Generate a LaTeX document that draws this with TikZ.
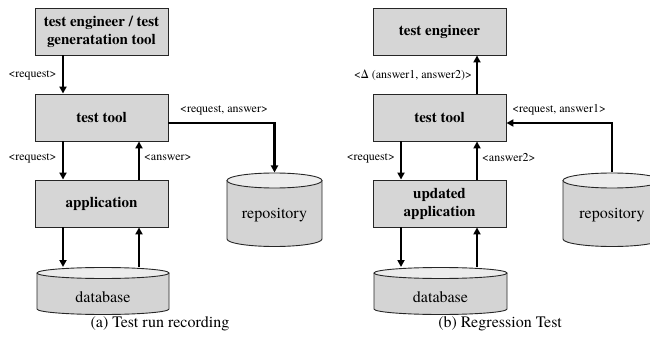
\documentclass[tikz,border=0pt]{standalone}
\usepackage{fontspec}
\setmainfont{TeX Gyre Termes}
\usetikzlibrary{arrows.meta}
\definecolor{boxgray}{HTML}{D6D6D6}
\definecolor{cyltop}{HTML}{ECECEC}
\definecolor{cylbody}{HTML}{D4D4D4}
\newcommand{\drawcyl}[5]{% left, right, top centre Y, bottom centre Y, y radius
  \path[fill=cylbody,draw=black!85,line width=0.9pt] (#1,#3) -- (#1,#4)
    arc[start angle=180,end angle=360,x radius={(#2-#1)/2},y radius=#5] -- (#2,#3);
  \path[fill=cyltop,draw=black!85,line width=0.9pt] ({(#1+#2)/2},#3)
    ellipse[x radius={(#2-#1)/2},y radius=#5];
}
\begin{document}
\begin{tikzpicture}[x=1pt,y=1pt,
  box/.style={draw=black!85, line width=0.9pt, fill=boxgray, minimum width=133pt,
    minimum height=47pt, inner sep=0pt, align=center,
    font=\fontsize{15}{18}\selectfont\bfseries},
  lbl/.style={font=\fontsize{12}{14}\selectfont, inner sep=0pt},
  cyltext/.style={font=\fontsize{16}{19}\selectfont, inner sep=0pt},
  captext/.style={font=\fontsize{16}{19}\selectfont, inner sep=0pt},
  flow/.style={line width=2.6pt, -{Triangle[width=7pt,length=7pt]}}]
\useasboundingbox (0,0) rectangle (650,343);

% ---------- (a) ----------
\node[box] (te1) at (101.5,311.5) {test engineer / test\\generatation tool};
\node[box] (tt1) at (101.5,225.5) {test tool};
\node[box] (app1) at (101.5,139.5) {application};
\drawcyl{37}{169}{70}{34}{5.5}
\node[cyltext] (db1) at (103,46) {database};
\coordinate (db1top) at (103,76);
\drawcyl{227}{322}{162.5}{104}{7.5}
\node[cyltext] (repo1) at (274.5,128) {repository};
\coordinate (repo1top) at (274.5,170.5);

\draw[flow] ([xshift=-38.5pt]te1.south) -- ([xshift=-38.5pt]tt1.north);
\draw[flow] ([xshift=-38.5pt]tt1.south) -- ([xshift=-38.5pt]app1.north);
\draw[flow] ([xshift=37.5pt]app1.north) -- ([xshift=37.5pt]tt1.south);
\draw[flow] ([xshift=-38.5pt]app1.south) -- ([xshift=-38.5pt]app1.south |- db1top);
\draw[flow] ([xshift=37.5pt]app1.south |- db1top) -- ([xshift=37.5pt]app1.south);
\draw[flow] ([yshift=-5.5pt]tt1.east) -| (repo1top);

\node[lbl] (l1) at (32.5,268) {<request>};
\node[lbl] (l2) at (224,233) {<request, answer>};
\node[lbl] (l3) at (32.5,185) {<request>};
\node[lbl, anchor=west] (l4) at (144,185) {<answer>};
\node[captext] (capa) at (160,19) {(a) Test run recording};

% ---------- (b) ----------
\node[box] (te2) at (439.5,311.5) {test engineer};
\node[box] (tt2) at (439.5,225.5) {test tool};
\node[box] (app2) at (439.5,139.5) {updated\\application};
\drawcyl{374}{507}{70}{34}{5.5}
\node[cyltext] (db2) at (440.5,46) {database};
\coordinate (db2top) at (440.5,76);
\drawcyl{563}{661}{162.5}{104}{7.5}
\node[cyltext] (repo2) at (612,128) {repository};
\coordinate (repo2top) at (612,170.5);

\draw[flow] ([xshift=37.5pt]tt2.north) -- ([xshift=37.5pt]te2.south);
\draw[flow] ([xshift=-38.5pt]tt2.south) -- ([xshift=-38.5pt]app2.north);
\draw[flow] ([xshift=37.5pt]app2.north) -- ([xshift=37.5pt]tt2.south);
\draw[flow] ([xshift=-38.5pt]app2.south) -- ([xshift=-38.5pt]app2.south |- db2top);
\draw[flow] ([xshift=37.5pt]app2.south |- db2top) -- ([xshift=37.5pt]app2.south);
\draw[flow] (repo2top) |- ([yshift=-5.5pt]tt2.east);

\node[lbl, anchor=east] (r1) at (472,268) {<Δ (answer1, answer2)>};
\node[lbl] (r2) at (559,233) {<request, answer1>};
\node[lbl, anchor=east] (r3) at (395,185) {<request>};
\node[lbl, anchor=west] (r4) at (482,185) {<answer2>};
\node[captext] (capb) at (500,19) {(b) Regression Test};
\end{tikzpicture}
\end{document}
